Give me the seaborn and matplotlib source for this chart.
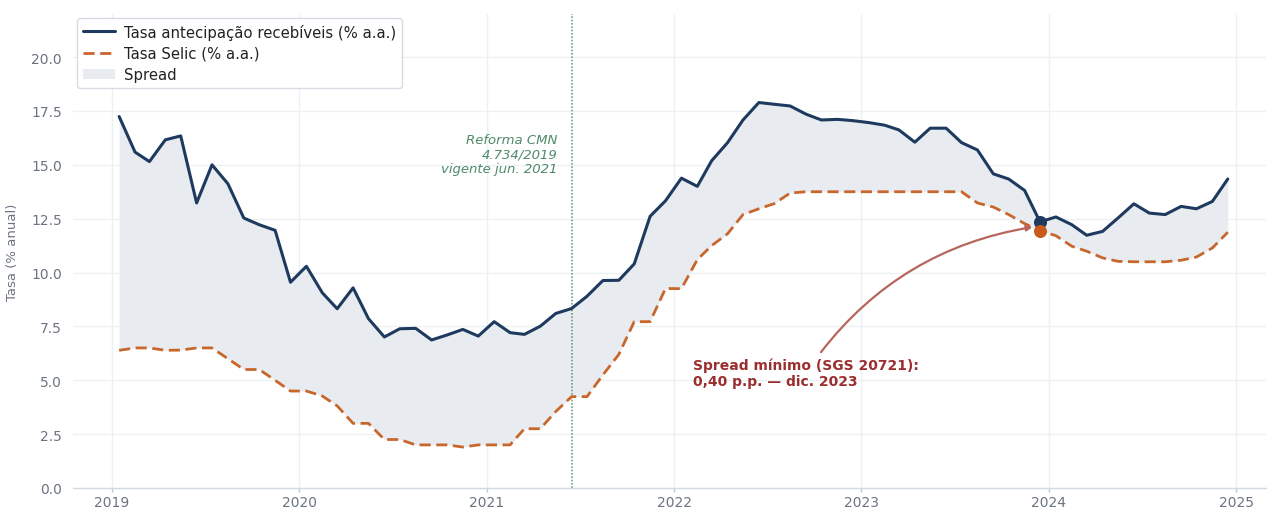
import matplotlib
matplotlib.use("Agg")
import matplotlib.pyplot as plt
import matplotlib.dates as mdates
from matplotlib.patches import Patch
from matplotlib.lines import Line2D
import seaborn as sns
import pandas as pd
import numpy as np

# ---- data ----
start_month = "2019-01-01"
n_months = 72
tasa_antecipacao = [
    17.24, 15.59, 15.15, 16.16, 16.34, 13.23, 15.00, 14.12, 12.53, 12.22, 11.96, 9.55,
    10.29, 9.06, 8.32, 9.29, 7.86, 7.01, 7.39, 7.41, 6.87, 7.10, 7.36, 7.05,
    7.72, 7.21, 7.13, 7.51, 8.10, 8.33, 8.90, 9.63, 9.64, 10.40, 12.61, 13.33,
    14.38, 14.00, 15.19, 16.03, 17.08, 17.89, 17.81, 17.73, 17.35, 17.08, 17.11, 17.05,
    16.96, 16.84, 16.62, 16.05, 16.70, 16.70, 16.03, 15.69, 14.58, 14.34, 13.81, 12.35,
    12.58, 12.22, 11.73, 11.91, 12.53, 13.19, 12.76, 12.69, 13.07, 12.96, 13.30, 14.34,
]
tasa_selic = [
    6.39, 6.50, 6.50, 6.39, 6.40, 6.50, 6.50, 6.00, 5.50, 5.50, 5.00, 4.50,
    4.50, 4.27, 3.81, 3.00, 3.00, 2.25, 2.25, 2.00, 2.00, 2.00, 1.90, 2.00,
    2.00, 2.00, 2.75, 2.75, 3.55, 4.24, 4.24, 5.25, 6.20, 7.72, 7.72, 9.26,
    9.25, 10.60, 11.25, 11.80, 12.69, 12.96, 13.20, 13.69, 13.75, 13.75, 13.75, 13.75,
    13.75, 13.75, 13.75, 13.75, 13.75, 13.75, 13.75, 13.23, 13.04, 12.69, 12.27, 11.94,
    11.71, 11.22, 10.99, 10.68, 10.52, 10.50, 10.50, 10.50, 10.57, 10.72, 11.14, 11.87,
]
label_tasa = "Tasa antecipação recebíveis (% a.a.)"
label_selic = "Tasa Selic (% a.a.)"
label_spread = "Spread"
reform_date = "2021-06-15"
reform_text = "Reforma CMN\n4.734/2019\nvigente jun. 2021"
min_spread_date = "2023-12-15"
annot_text = "Spread mínimo (SGS 20721):\n0,40 p.p. — dic. 2023"
y_ticks = [0.0, 2.5, 5.0, 7.5, 10.0, 12.5, 15.0, 17.5, 20.0]

dates = pd.date_range(start_month, periods=n_months, freq="MS") + pd.Timedelta(days=14)
df = pd.DataFrame({"fecha": dates, "tasa": tasa_antecipacao, "selic": tasa_selic})

# ---- style ----
sns.set_theme(style="whitegrid")
plt.rcParams["font.family"] = ["DejaVu Sans"]

NAVY = "#1f3a5f"
ORANGE = "#c8672c"
FILL = "#e8ebef"
GREEN = "#4f8a67"
RED_TXT = "#9b2f2f"
RED_ARROW = "#b8665d"
TICK = "#6b7480"

fig = plt.figure(figsize=(12.67, 5.10), dpi=100)
ax = fig.add_axes([0.0576, 0.0412, 0.9414, 0.9294])
ax.set_facecolor("white")

ax.fill_between(df["fecha"], df["selic"], df["tasa"], color=FILL, linewidth=0, zorder=1)
sns.lineplot(data=df, x="fecha", y="tasa", ax=ax, color=NAVY, linewidth=2.2, zorder=3)
sns.lineplot(data=df, x="fecha", y="selic", ax=ax, color=ORANGE, linewidth=2.0,
             linestyle=(0, (4, 2)), zorder=3)

# vertical reform line
rd = pd.Timestamp(reform_date)
ax.axvline(rd, color=GREEN, linestyle=(0, (1, 1)), linewidth=1.2, alpha=0.8, zorder=2)
ax.text(rd - pd.Timedelta(days=28), 15.5, reform_text, ha="right", va="center",
        color=GREEN, fontsize=9.5, style="italic", linespacing=1.15)

# min spread markers
md = pd.Timestamp(min_spread_date)
i_min = list(df["fecha"]).index(md)
ax.scatter([md], [df["tasa"][i_min]], s=70, color=NAVY, zorder=5)
ax.scatter([md], [df["selic"][i_min]], s=70, color="#c85a1a", zorder=5)

ax.annotate(annot_text, xy=(md - pd.Timedelta(days=4), 12.15),
            xytext=(pd.Timestamp("2022-02-07"), 5.35), ha="left", va="center",
            color=RED_TXT, fontsize=10, fontweight="bold", linespacing=1.15,
            arrowprops=dict(arrowstyle="-|>", color=RED_ARROW, lw=1.6,
                            connectionstyle="arc3,rad=-0.22", shrinkA=2, shrinkB=4,
                            mutation_scale=8),
            zorder=6)

# axes
ax.set_ylim(0, 22)
ax.set_xlim(pd.Timestamp("2018-10-17"), pd.Timestamp("2025-02-27"))
ax.set_yticks(y_ticks)
ax.set_yticklabels([f"{t:.1f}" for t in y_ticks])
ax.xaxis.set_major_locator(mdates.YearLocator())
ax.xaxis.set_major_formatter(mdates.DateFormatter("%Y"))
ax.set_xlabel("")
ax.set_ylabel("Tasa (% anual)", color=TICK, fontsize=9.5, labelpad=9)
ax.grid(True, color="#edf0f4", linewidth=1.0)
for s in ["top", "right", "left"]:
    ax.spines[s].set_visible(False)
ax.spines["bottom"].set_color("#d3d9e2")
ax.spines["bottom"].set_linewidth(1.0)
ax.tick_params(axis="x", colors="#c0c7d0", labelcolor=TICK, labelsize=10,
               length=3, width=1, bottom=True, pad=2)
ax.tick_params(axis="y", labelcolor=TICK, labelsize=10, length=0, pad=8)

handles = [Line2D([], [], color=NAVY, lw=2.2),
           Line2D([], [], color=ORANGE, lw=2.0, linestyle=(0, (4, 2))),
           Patch(facecolor=FILL, edgecolor="none")]
leg = ax.legend(handles, [label_tasa, label_selic, label_spread], loc="upper left",
                bbox_to_anchor=(0.0, 1.0), fontsize=10.7, frameon=True,
                borderpad=0.4, labelspacing=0.42, handlelength=2.15,
                handletextpad=0.65, borderaxespad=0.25)
leg.get_frame().set_edgecolor("#d8dce2")
leg.get_frame().set_facecolor("white")
leg.get_frame().set_alpha(1.0)
for t in leg.get_texts():
    t.set_color("#222222")

fig.savefig("out.png", dpi=100)
